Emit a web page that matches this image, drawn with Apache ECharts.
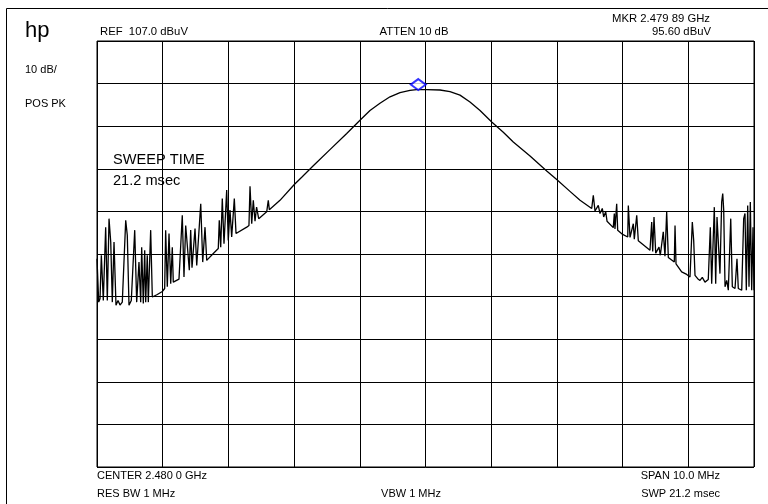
<!DOCTYPE html>
<html>
<head>
<meta charset="utf-8">
<script src="https://cdn.jsdelivr.net/npm/echarts@6/dist/echarts.min.js"></script>
<style>
html,body{margin:0;padding:0;background:#fff;}
#chart{width:768px;height:504px;}
</style>
</head>
<body>
<div id="chart"></div>
<script>
// Frequency offsets from center (MHz) and trace levels (dBuV)
var leftFreqMHz = [
-5.000,-4.974,-4.954,-4.934,-4.904,-4.868,-4.843,-4.817,-4.791,-4.767,
-4.741,-4.711,-4.680,-4.650,-4.615,-4.563,-4.539,-4.513,-4.478,-4.426,
-4.396,-4.361,-4.335,-4.320,-4.295,-4.274,-4.259,-4.235,-4.219,-4.183,
-4.158,-4.082,-4.006,-3.970,-3.955,-3.930,-3.904,-3.878,-3.854,-3.839,
-3.752,-3.702,-3.676,-3.650,-3.595,-3.574,-3.554,-3.508,-3.482,-3.421,
-3.391,-3.356,-3.330,-3.230,-3.154,-3.139,-3.117,-3.093,-3.067,-3.026,
-3.002,-2.976,-2.950,-2.910,-2.884,-2.721,-2.687,-2.671,-2.645,-2.621,
-2.595,-2.571,-2.539,-2.417,-2.393,-2.377,-2.215];
var leftLevelDbuV = [
55.9,45.7,46.5,56.7,46.1,63.3,46.1,65.3,59.8,45.7,
59.8,45.0,46.1,45.0,45.7,64.9,61.4,45.0,46.1,62.6,
45.7,55.1,45.7,58.6,45.4,57.9,45.7,56.7,45.7,62.6,
46.9,47.5,48.2,48.9,62.6,49.3,61.8,50.0,58.6,50.4,
51.1,66.1,51.6,63.7,53.2,62.6,53.8,63.0,54.3,68.8,
55.1,63.3,55.5,57.1,58.3,64.9,58.6,70.0,59.4,72.0,
60.2,67.3,61.0,70.0,61.8,63.3,63.7,72.9,64.1,69.6,
64.7,68.0,65.3,66.9,69.6,67.4,69.6];

var centerFreqMHz = [
-1.997,-1.884,-1.708,-1.454,-1.199,-0.997,-0.845,-0.693,-0.540,-0.388,
-0.236,-0.134,0.018,0.221,0.373,0.525,0.677,0.830,1.008,1.184,
1.336,1.591,1.845,1.997,2.199,2.352];
var centerLevelDbuV = [
73.3,75.0,77.7,81.5,85.3,88.4,90.7,92.4,93.9,94.9,
95.4,95.6,95.6,95.5,95.1,94.3,92.7,90.7,88.0,85.6,
83.3,80.0,76.5,74.5,71.7,69.6];

var rightFreqMHz = [
2.530,2.554,2.580,2.630,2.656,2.691,2.712,2.743,2.763,2.858,
2.874,2.884,2.910,2.925,3.001,3.078,3.087,3.113,3.163,3.178,
3.215,3.239,3.417,3.443,3.458,3.478,3.504,3.554,3.574,3.619,
3.645,3.671,3.696,3.787,3.798,3.813,
3.899,3.976,4.026,4.061,4.082,4.102,4.143,4.178,4.213,4.254,
4.304,4.335,4.356,4.396,4.417,4.437,4.457,4.482,4.508,4.524,
4.539,4.559,4.585,4.609,4.646,4.670,4.711,4.741,4.761,4.813,
4.843,4.863,4.883,4.904,4.924,4.944,4.965,4.985,5.000];
var rightLevelDbuV = [
67.7,70.8,67.1,68.4,66.5,67.7,65.7,66.9,64.7,63.2,
66.5,62.9,68.8,62.6,61.6,61.0,68.4,60.9,64.1,60.5,
66.1,60.1,57.9,64.5,57.6,65.7,57.2,58.6,56.7,62.2,
56.5,66.9,56.2,55.1,63.7,54.7,
52.8,52.2,51.6,64.5,60.2,52.0,51.2,50.8,51.5,50.4,
51.0,63.3,50.0,68.0,50.0,65.7,66.1,52.4,69.2,71.2,
67.3,49.3,50.8,48.5,65.3,49.3,48.9,55.9,48.9,48.5,
65.3,66.5,48.5,68.4,49.3,69.2,48.5,63.3,48.5];

var markerFreqMHz = -0.11;
var markerLevelDbuV = 95.6;

var refLevel = 107;       // dBuV, top of screen
var dbPerDiv = 10;
var spanMHz = 10;

var texts = {
  brand: 'hp',
  scale: '10 dB/',
  detector: 'POS PK',
  ref: 'REF  107.0 dBuV',
  atten: 'ATTEN 10 dB',
  mkr1: 'MKR 2.479 89 GHz',
  mkr2: '95.60 dBuV',
  sweep1: 'SWEEP TIME',
  sweep2: '21.2 msec',
  center: 'CENTER 2.480 0 GHz',
  span: 'SPAN 10.0 MHz',
  rbw: 'RES BW 1 MHz',
  vbw: 'VBW 1 MHz',
  swp: 'SWP 21.2 msec'
};

var freqs = leftFreqMHz.concat(centerFreqMHz, rightFreqMHz);
var levels = leftLevelDbuV.concat(centerLevelDbuV, rightLevelDbuV);
var trace = freqs.map(function (f, i) { return [f, levels[i]]; });

var FONT = '"Liberation Sans", Arial, sans-serif';
function txt(x, y, s, size, align, weight) {
  return {
    type: 'text', x: x, y: y, silent: true,
    style: {
      text: s, fill: '#000',
      font: (weight || 'normal') + ' ' + size + 'px ' + FONT,
      textAlign: align || 'left', align: align || 'left',
      textVerticalAlign: 'middle', verticalAlign: 'middle'
    }
  };
}

var chart = echarts.init(document.getElementById('chart'), null, {renderer: 'canvas'});
chart.setOption({
  animation: false,
  backgroundColor: '#fff',
  grid: {left: 97, top: 41, width: 657, height: 426, show: true, borderColor: '#000', borderWidth: 1, containLabel: false},
  xAxis: [{
    type: 'value', min: -spanMHz / 2, max: spanMHz / 2, interval: 1,
    axisLabel: {show: false}, axisTick: {show: false}, axisLine: {show: false},
    splitLine: {show: true, lineStyle: {color: '#000', width: 1}}
  }],
  yAxis: [{
    type: 'value', min: refLevel - 10 * dbPerDiv, max: refLevel,
    axisLabel: {show: false}, axisTick: {show: false}, axisLine: {show: false},
    splitLine: {show: false}
  }, {
    type: 'value', min: 0, max: 10, interval: 1,
    axisLabel: {show: false}, axisTick: {show: false}, axisLine: {show: false},
    splitLine: {show: true, lineStyle: {color: '#000', width: 1}}
  }],
  series: [{
    type: 'line', yAxisIndex: 0, data: trace, showSymbol: false, symbol: 'none',
    lineStyle: {color: '#000', width: 1.3}, z: 3
  }, {
    type: 'scatter', yAxisIndex: 0, data: [[markerFreqMHz, markerLevelDbuV]],
    symbol: 'diamond', symbolSize: [15, 11], symbolOffset: [0, -5],
    itemStyle: {color: '#fff', borderColor: '#0000ff', borderWidth: 2}, z: 4
  }],
  graphic: [
    {type: 'polyline', silent: true, shape: {points: [[6.5, 504], [6.5, 8.5], [768, 8.5]]}, style: {stroke: '#000', lineWidth: 1, fill: null}},
    txt(25, 31, texts.brand, 22, 'left'),
    txt(25, 70, texts.scale, 11, 'left'),
    txt(25, 104, texts.detector, 11, 'left'),
    txt(100, 32, texts.ref, 11.3, 'left'),
    txt(414, 32, texts.atten, 11.3, 'center'),
    txt(710, 19, texts.mkr1, 11.3, 'right'),
    txt(711, 32, texts.mkr2, 11.3, 'right'),
    txt(113, 160, texts.sweep1, 14.6, 'left'),
    txt(113, 181, texts.sweep2, 14.6, 'left'),
    txt(97, 476, texts.center, 11, 'left'),
    txt(720, 476, texts.span, 11, 'right'),
    txt(97, 494, texts.rbw, 11, 'left'),
    txt(411, 494, texts.vbw, 11, 'center'),
    txt(720, 494, texts.swp, 11, 'right')
  ]
});
</script>
</body>
</html>
